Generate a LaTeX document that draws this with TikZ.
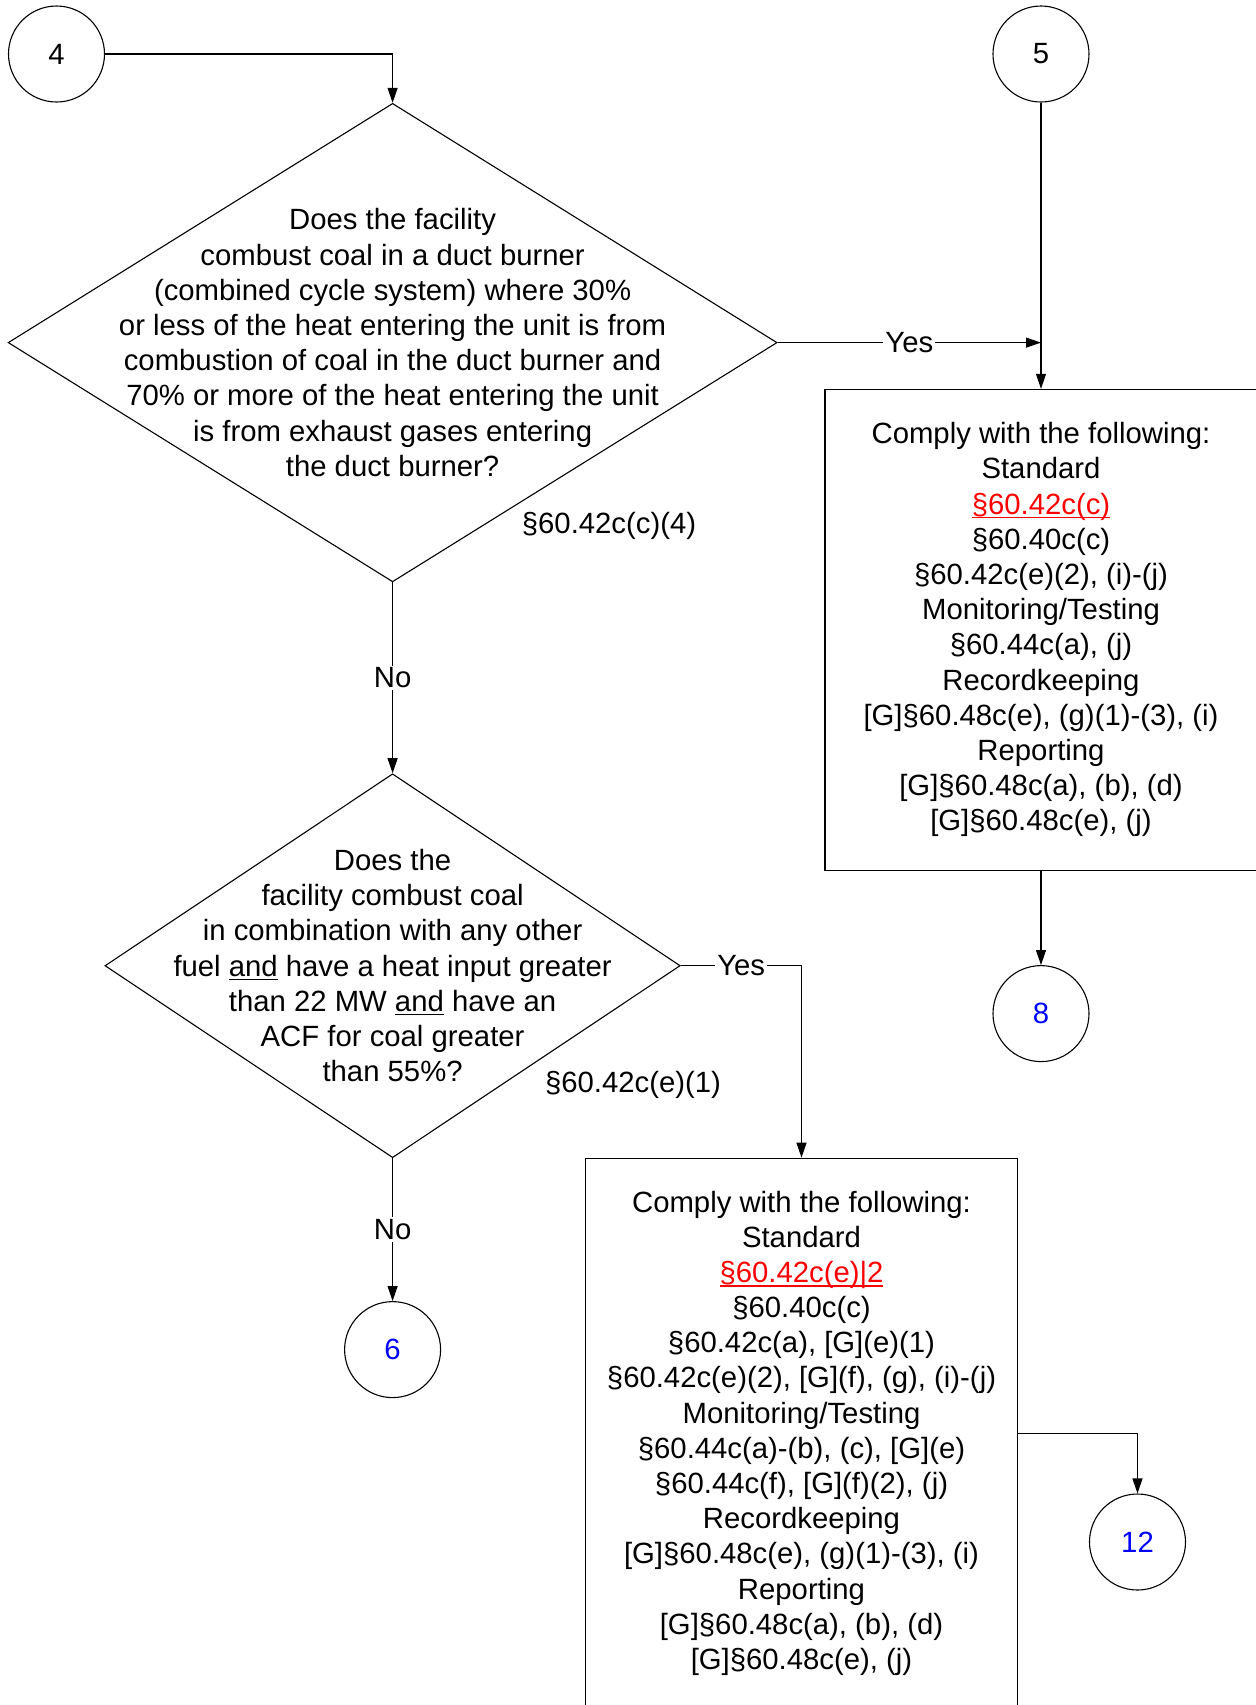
\documentclass[tikz,border=0pt]{standalone}
\usepackage{fontspec}
\setmainfont{Liberation Sans}
\usepackage{tikz}
\usetikzlibrary{arrows.meta,shapes.geometric}
\tikzset{
	flow/.style={line width=0.55pt, -{Triangle[length=7.5pt,width=5pt]}},
	conn/.style={draw, circle, line width=0.55pt, minimum size=48pt, inner sep=0pt},
	decision/.style={draw, diamond, line width=0.55pt, inner sep=0pt},
	todo/.style={draw, rectangle, line width=0.55pt, inner sep=0pt, align=center},
	lbl/.style={fill=white, inner sep=1pt},
}
\def\reflink#1{\textcolor{red}{\setbox0\hbox{#1}\rlap{\rule[-2.1pt]{\wd0}{0.8pt}}\box0}}

\begin{document}
\begin{tikzpicture}[x=0.5pt, y=-0.5pt, every node/.append style={font=\fontsize{14.65pt}{17.6pt}\selectfont}]
		%%%%% START %%%%%
		
		\useasboundingbox (0, 0) rectangle (1255, 1705);
		
		\node[conn] (c4) at (56.5, 54) {4};
		\node[conn] (c5) at (1041, 54) {5};
		
		\node[decision, minimum width=384.5pt, minimum height=239.25pt] (q1) at (392.6, 342.6) {};
		\node[align=center] (q1text) at (392.6, 342.6) {Does the facility\\combust coal in a duct burner\\(combined cycle system) where 30\%\\or less of the heat entering the unit is from\\combustion of coal in the duct burner and\\70\% or more of the heat entering the unit\\is from exhaust gases entering\\the duct burner?};
		\node (q1ref) at (609, 526.4) {\S60.42c(c)(4)};
		
		\node[todo, minimum width=216pt, minimum height=240.35pt] (box1) at (1041, 629.7) {Comply with the following:\\Standard\\\reflink{\S60.42c(c)}\\\S60.40c(c)\\\S60.42c(e)(2), (i)-(j)\\Monitoring/Testing\\\S60.44c(a), (j)\\Recordkeeping\\{[G]}\S60.48c(e), (g)(1)-(3), (i)\\Reporting\\{[G]}\S60.48c(a), (b), (d)\\{[G]}\S60.48c(e), (j)};
		
		\node[conn, text=blue] (c8) at (1041, 1013.6) {8};
		
		\node[decision, minimum width=287.65pt, minimum height=191.95pt] (q2) at (392.6, 965.7) {};
		\node[align=center] (q2text) at (392.6, 965.7) {Does the\\facility combust coal\\in combination with any other\\fuel \underline{and} have a heat input greater\\than 22 MW \underline{and} have an\\ACF for coal greater\\than 55\%?};
		\node (q2ref) at (633, 1085) {\S60.42c(e)(1)};
		
		\node[conn, text=blue] (c6) at (392.6, 1349.6) {6};
		
		\node[todo, minimum width=216pt, minimum height=275pt] (box2) at (801.5, 1433.2) {Comply with the following:\\Standard\\\reflink{\S60.42c(e)|2}\\\S60.40c(c)\\\S60.42c(a), [G](e)(1)\\\S60.42c(e)(2), [G](f), (g), (i)-(j)\\Monitoring/Testing\\\S60.44c(a)-(b), (c), [G](e)\\\S60.44c(f), [G](f)(2), (j)\\Recordkeeping\\{[G]}\S60.48c(e), (g)(1)-(3), (i)\\Reporting\\{[G]}\S60.48c(a), (b), (d)\\{[G]}\S60.48c(e), (j)};
		
		\node[conn, text=blue] (c12) at (1137.5, 1542) {12};
		
		% connectors
		\draw[flow] (c4.east) -| (q1.north);
		\draw[flow] (c5.south) -- (box1.north);
		\draw[flow] (q1.east) -- node[lbl] {Yes} (q1.east -| c5.south);
		\draw[flow] (q1.south) -- node[lbl] {No} (q2.north);
		\draw[flow] (box1.south) -- (c8.north);
		\draw[flow] (q2.east) -- node[lbl] {Yes} (q2.east -| box2.north) -- (box2.north);
		\draw[flow] (q2.south) -- node[lbl] {No} (c6.north);
		\draw[flow] (box2.east) -| (c12.north);
		
		%%%%% END %%%%%
	\end{tikzpicture}
\end{document}
